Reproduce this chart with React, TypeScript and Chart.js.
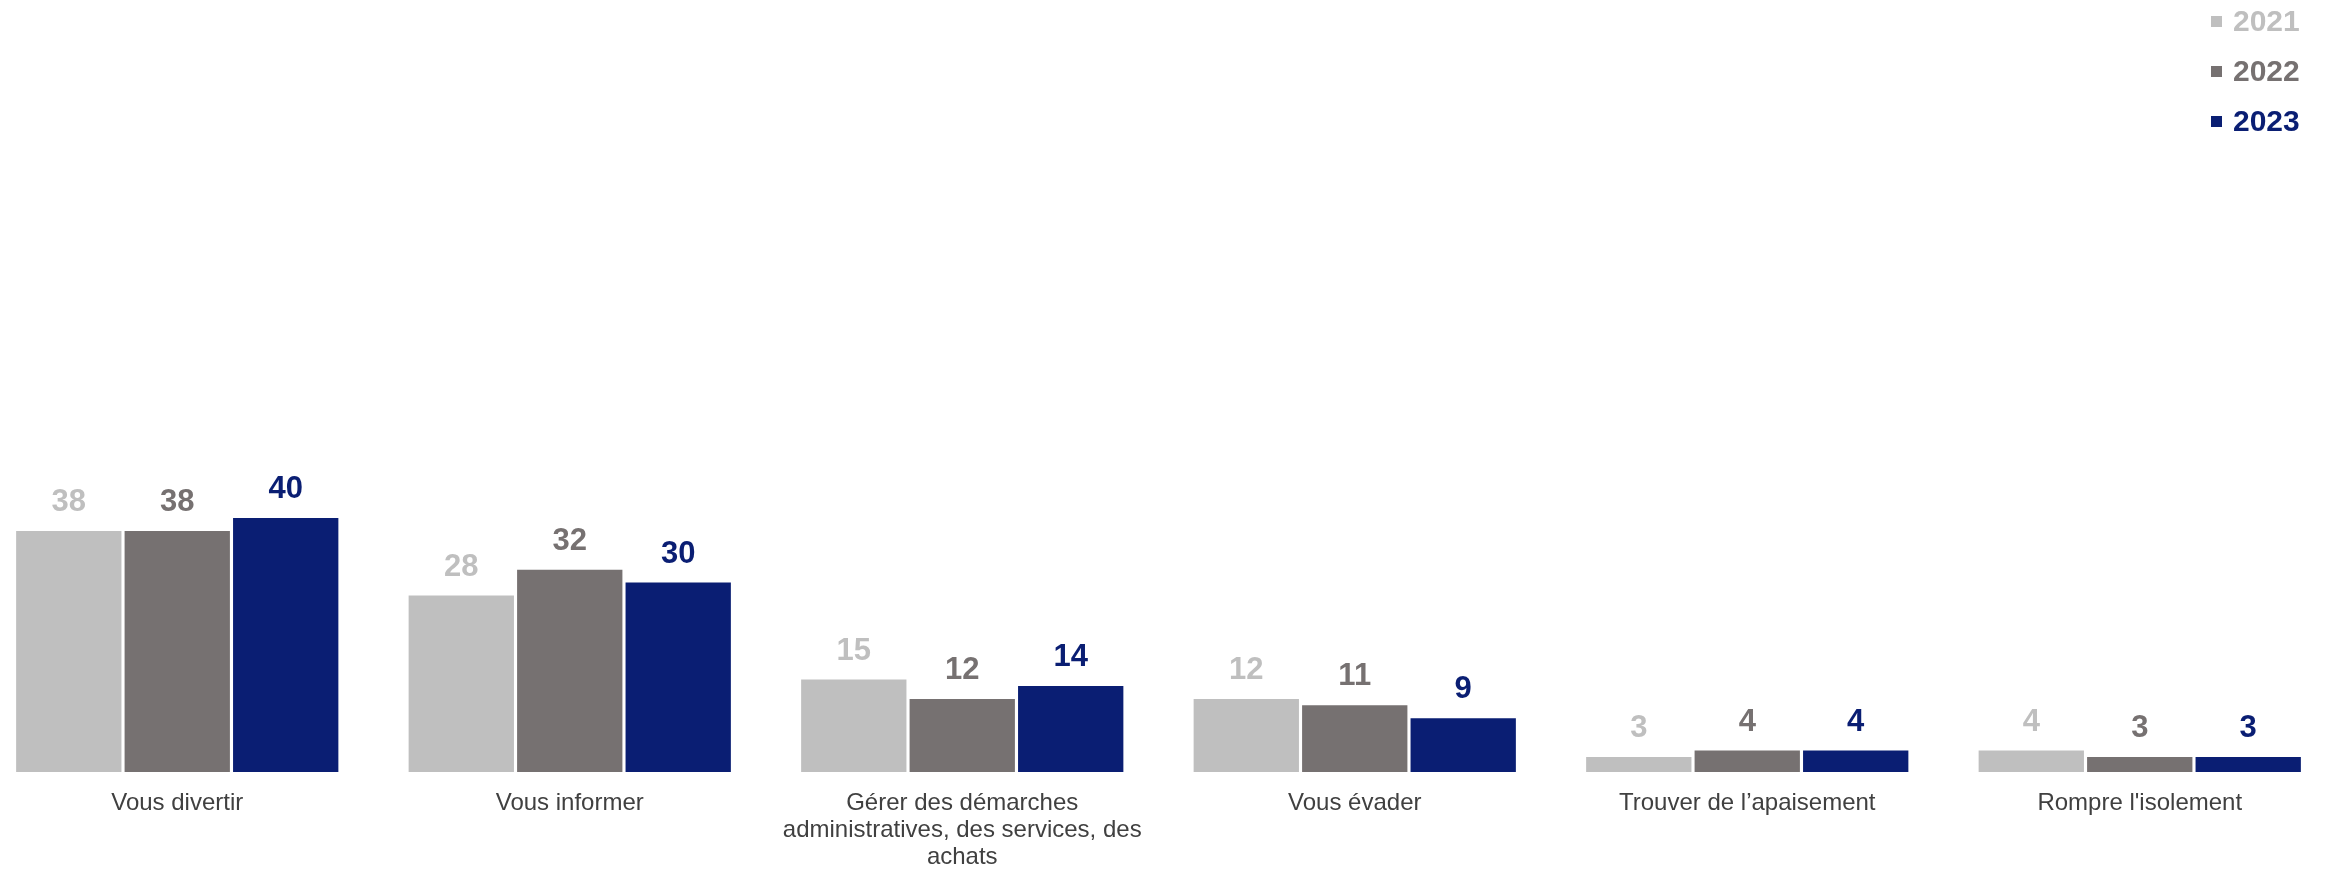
import React, { useEffect, useRef } from "react";
import { Chart, registerables } from "chart.js";

Chart.register(...registerables);

const categories: (string | string[])[] = [
  "Vous divertir",
  "Vous informer",
  ["Gérer des démarches", "administratives, des services, des", "achats"],
  "Vous évader",
  "Trouver de l’apaisement",
  "Rompre l'isolement",
];

const seriesNames = ["2021", "2022", "2023"];
const values2021 = [38, 28, 15, 12, 3, 4];
const values2022 = [38, 32, 12, 11, 4, 3];
const values2023 = [40, 30, 14, 9, 4, 3];
const seriesColors = ["#BFBFBF", "#767171", "#0A1E73"];

const FONT = "'Liberation Sans', Arial, sans-serif";
const CANVAS_H = 880;

const valueLabelPlugin = {
  id: "valueLabels",
  afterDatasetsDraw(chart: any) {
    const ctx = chart.ctx;
    ctx.save();
    ctx.font = `bold 31px ${FONT}`;
    ctx.textAlign = "center";
    ctx.textBaseline = "middle";
    chart.data.datasets.forEach((ds: any, di: number) => {
      const meta = chart.getDatasetMeta(di);
      meta.data.forEach((el: any, i: number) => {
        ctx.fillStyle = ds.backgroundColor;
        ctx.fillText(String(ds.data[i]), el.x, el.y - 28.5);
      });
    });
    ctx.restore();
  },
};

export default function App() {
  const canvasRef = useRef<HTMLCanvasElement | null>(null);

  useEffect(() => {
    if (!canvasRef.current) return;
    const seriesValues = [values2021, values2022, values2023];
    const chart = new Chart(canvasRef.current, {
      type: "bar",
      data: {
        labels: categories as any,
        datasets: seriesNames.map((name, i) => ({
          label: name,
          data: seriesValues[i],
          backgroundColor: seriesColors[i],
          borderWidth: 0,
          barPercentage: 0.971,
          categoryPercentage: 0.829,
        })),
      },
      options: {
        animation: false,
        responsive: false,
        devicePixelRatio: 1,
        layout: { padding: 0 },
        plugins: {
          legend: { display: false },
          tooltip: { enabled: false },
          title: { display: false },
        },
        scales: {
          x: {
            grid: { display: false },
            border: { display: false },
            ticks: {
              autoSkip: false,
              maxRotation: 0,
              minRotation: 0,
              padding: 9.5,
              color: "#404040",
              font: { family: FONT, size: 24, lineHeight: 1.125 },
            },
          },
          y: {
            display: false,
            min: 0.68,
            max: 120.2,
          },
        },
      },
      plugins: [valueLabelPlugin],
    });
    return () => chart.destroy();
  }, []);

  return (
    <div>
      <div
        style={{
          position: "fixed",
          left: -19,
          top: 0,
          width: 2355,
          height: CANVAS_H,
        }}
      >
        <canvas ref={canvasRef} width={2355} height={CANVAS_H} style={{ width: 2355, height: CANVAS_H }} />
      </div>
      {seriesNames.map((name, i) => (
        <div
          key={name}
          style={{
            position: "fixed",
            left: 2211,
            top: 21 + i * 50 - 25,
            height: 50,
            display: "flex",
            alignItems: "center",
            fontFamily: FONT,
            fontWeight: "bold",
            fontSize: 30,
            color: seriesColors[i],
          }}
        >
          <span
            style={{
              display: "inline-block",
              width: 11,
              height: 11,
              background: seriesColors[i],
              marginRight: 11,
            }}
          />
          <span>{name}</span>
        </div>
      ))}
    </div>
  );
}
